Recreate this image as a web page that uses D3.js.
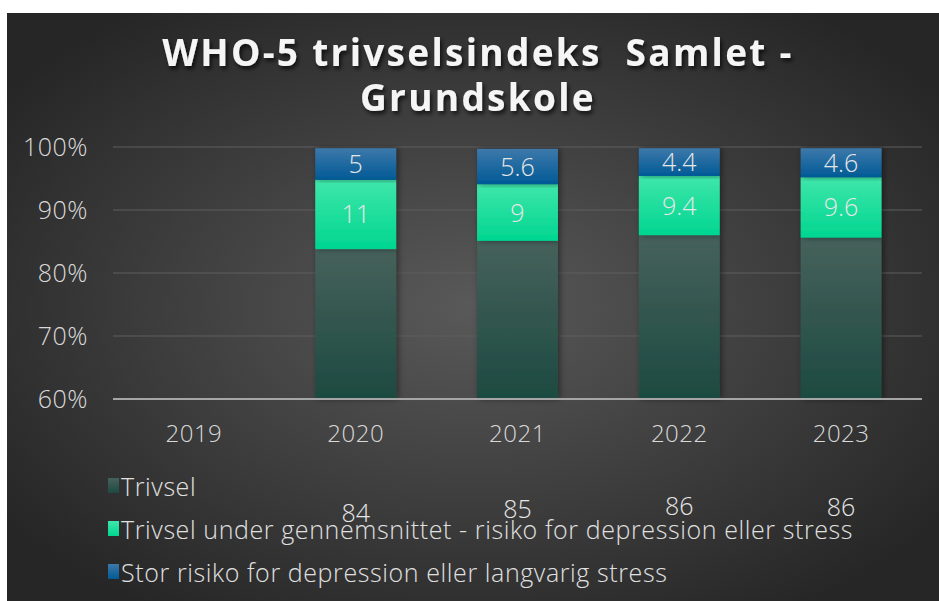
<!DOCTYPE html>
<html>
<head>
<meta charset="utf-8">
<script src="https://cdn.jsdelivr.net/npm/d3@7"></script>
<style>
  html, body { margin: 0; padding: 0; background: #fff; }
  svg { display: block; }
  text { font-family: "Open Sans", Lato, sans-serif; }
</style>
</head>
<body>
<svg id="chart" width="939" height="601"></svg>
<script>
// Data (percent)
const years = ["2019", "2020", "2021", "2022", "2023"];
const trivsel = [null, 83.8, 85.1, 86.0, 85.6];
const underSnit = [null, 11, 9, 9.4, 9.6];
const storRisiko = [null, 5, 5.6, 4.4, 4.6];
const yTicks = [0.6, 0.7, 0.8, 0.9, 1.0];
const seriesNames = [
  "Trivsel",
  "Trivsel under gennemsnittet - risiko for depression eller stress",
  "Stor risiko for depression eller langvarig stress"
];
const labelFormats = [d3.format(".0f"), d3.format(""), d3.format("")];

const svg = d3.select("#chart");
const W = 939, H = 601;
const margin = { left: 113, right: 17, top: 147, bottom: 202 };

const defs = svg.append("defs");

// background radial gradient
const bg = defs.append("radialGradient")
  .attr("id", "bg").attr("cx", "50%").attr("cy", "50%").attr("r", "62%");
bg.append("stop").attr("offset", "0%").attr("stop-color", "#595959");
bg.append("stop").attr("offset", "100%").attr("stop-color", "#262626");

function vGrad(id, top, bottom) {
  const g = defs.append("linearGradient").attr("id", id)
    .attr("x1", "0%").attr("x2", "0%").attr("y1", "0%").attr("y2", "100%");
  g.append("stop").attr("offset", "0%").attr("stop-color", top);
  g.append("stop").attr("offset", "100%").attr("stop-color", bottom);
}
vGrad("g0", "#46615b", "#1d4a41");
vGrad("g1", "#3fe6aa", "#00d690");
vGrad("g2", "#3d78aa", "#005a96");
const fills = ["url(#g0)", "url(#g1)", "url(#g2)"];

const shadow = defs.append("filter").attr("id", "shadow")
  .attr("x", "-30%").attr("y", "-10%").attr("width", "160%").attr("height", "120%");
shadow.append("feDropShadow").attr("dx", 2).attr("dy", 0)
  .attr("stdDeviation", 3).attr("flood-color", "#000").attr("flood-opacity", 0.45);

const tshadow = defs.append("filter").attr("id", "tshadow")
  .attr("x", "-10%").attr("y", "-30%").attr("width", "120%").attr("height", "160%");
tshadow.append("feDropShadow").attr("dx", 2).attr("dy", 3)
  .attr("stdDeviation", 2).attr("flood-color", "#000").attr("flood-opacity", 0.7);

svg.append("rect")
  .attr("x", 7).attr("y", 13).attr("width", W - 7).attr("height", H - 13)
  .attr("fill", "url(#bg)");

// Title
svg.append("text")
  .attr("text-anchor", "middle")
  .attr("font-size", 37).attr("font-weight", "bold").attr("fill", "#f5f5f5")
  .attr("letter-spacing", 2.3)
  .attr("filter", "url(#tshadow)")
  .style("white-space", "pre")
  .selectAll("tspan")
  .data(["WHO-5 trivselsindeks  Samlet -", "Grundskole"])
  .join("tspan")
  .attr("x", 478)
  .attr("y", (d, i) => 66 + i * 45)
  .text(d => d);

// Scales
const x = d3.scaleBand().domain(years)
  .range([margin.left, W - margin.right]).paddingInner(0.5).paddingOuter(0.25);
const y = d3.scaleLinear().domain([0.6, 1]).range([H - margin.bottom, margin.top]);
const yc = y.copy().clamp(true);

// gridlines
svg.append("g").selectAll("line")
  .data(yTicks.slice(1))
  .join("line")
  .attr("x1", margin.left).attr("x2", W - margin.right)
  .attr("y1", d => y(d)).attr("y2", d => y(d))
  .attr("stroke", "#5e5e5e").attr("stroke-width", 1);

// y axis labels
const yAxis = d3.axisLeft(y).tickValues(yTicks).tickFormat(d3.format(".0%")).tickSize(0).tickPadding(25);
const gy = svg.append("g").attr("transform", `translate(${margin.left},0)`).call(yAxis);
gy.select(".domain").remove();
gy.selectAll("text").attr("font-size", 25).attr("fill", "#d9d9d9")
  .attr("font-family", "'Open Sans', sans-serif").attr("font-weight", 300)
  .attr("letter-spacing", 0.5);

// stacked data
const rows = years.map((yr, i) => ({ year: yr, s0: trivsel[i], s1: underSnit[i], s2: storRisiko[i] }))
  .filter(d => d.s0 != null);
const stack = d3.stack().keys(["s0", "s1", "s2"]).value((d, k) => d[k] / 100);
const stacked = stack(rows);

const gBars = svg.append("g");
stacked.forEach((layer, li) => {
  gBars.append("g").selectAll("rect")
    .data(layer)
    .join("rect")
    .attr("x", d => x(d.data.year))
    .attr("width", x.bandwidth())
    .attr("y", d => yc(d[1]))
    .attr("height", d => yc(d[0]) - yc(d[1]))
    .attr("fill", fills[li])
    .attr("filter", "url(#shadow)");
});

// baseline
svg.append("line")
  .attr("x1", margin.left).attr("x2", W - margin.right)
  .attr("y1", y(0.6)).attr("y2", y(0.6))
  .attr("stroke", "#a6a6a6").attr("stroke-width", 2);

// data labels (centred on the unclipped segment, as the original does)
stacked.forEach((layer, li) => {
  svg.append("g").selectAll("text")
    .data(layer)
    .join("text")
    .attr("x", d => x(d.data.year) + x.bandwidth() / 2)
    .attr("y", d => y((d[0] + d[1]) / 2))
    .attr("dy", "0.36em")
    .attr("text-anchor", "middle")
    .attr("font-size", 25).attr("font-weight", 300)
    .attr("fill", "#e6e6e6")
    .text(d => labelFormats[li](d.data[layer.key]));
});

// x axis labels
const xAxis = d3.axisBottom(x).tickSize(0).tickPadding(26);
const gx = svg.append("g").attr("transform", `translate(0,${y(0.6)})`).call(xAxis);
gx.select(".domain").remove();
gx.selectAll("text").attr("font-size", 24).attr("fill", "#d9d9d9")
  .attr("font-family", "'Open Sans', sans-serif").attr("font-weight", 300)
  .attr("letter-spacing", 0.5);

// legend
const legend = svg.append("g").selectAll("g")
  .data(seriesNames)
  .join("g")
  .attr("transform", (d, i) => `translate(108,${487 + i * 43})`);
legend.append("rect")
  .attr("x", 0).attr("y", -9).attr("width", 11).attr("height", 15)
  .attr("fill", (d, i) => fills[i]);
legend.append("text")
  .attr("x", 13).attr("y", 0).attr("dy", "0.35em")
  .attr("font-size", 25).attr("font-weight", 300).attr("fill", "#e0e0e0")
  .attr("letter-spacing", 0.6)
  .text(d => d);
</script>
</body>
</html>
